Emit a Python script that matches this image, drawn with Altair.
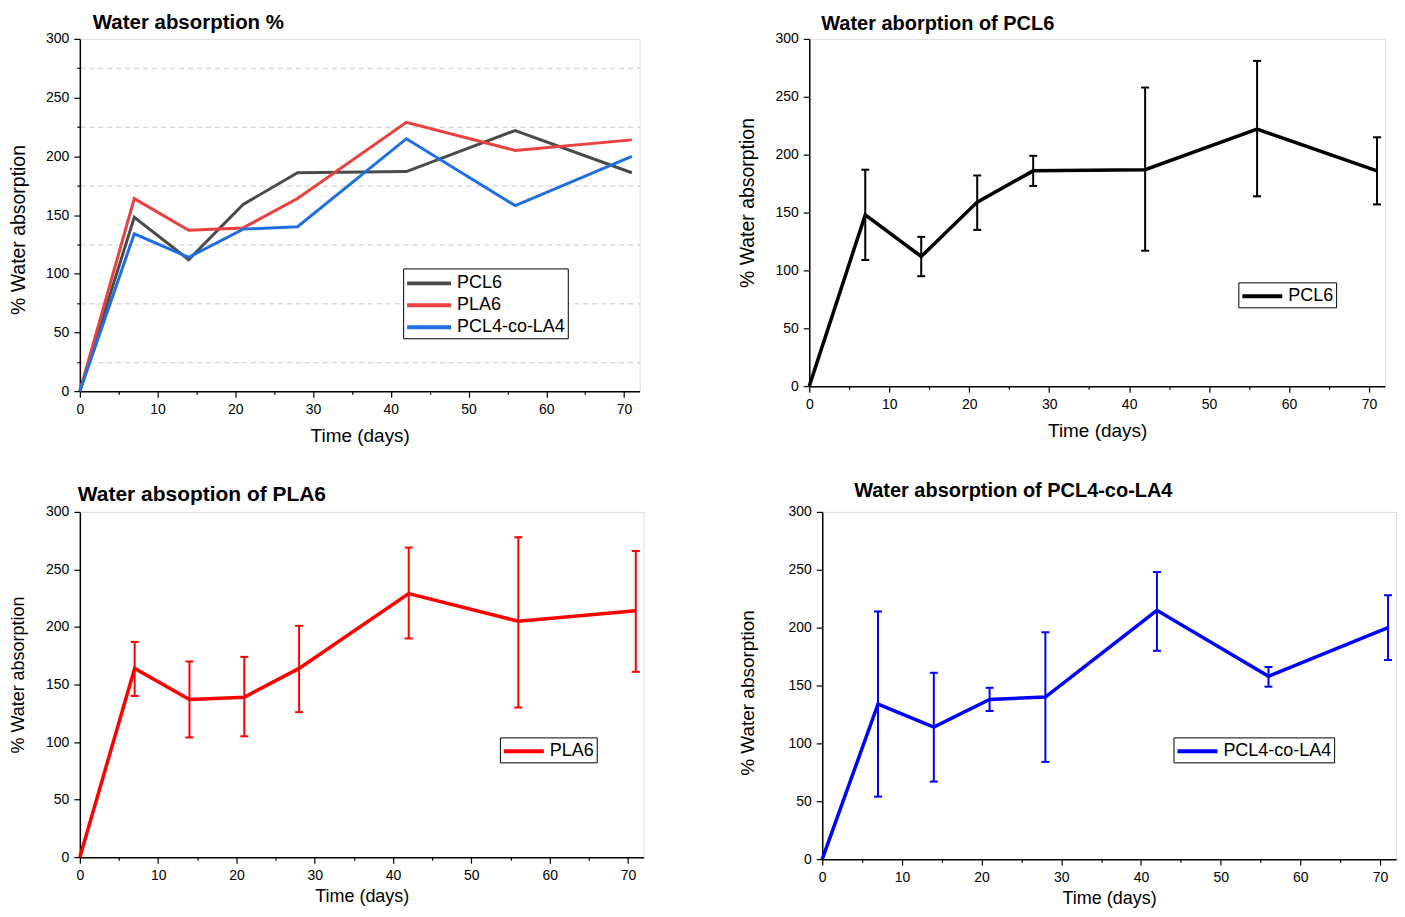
import altair as alt
import pandas as pd

# ---------------- data ----------------
days = [0, 7, 14, 21, 28, 42, 56, 71]
err_days = [7, 14, 21, 28, 42, 56, 71]

pcl6 = [0, 148, 112, 159, 186, 187, 222, 186]
pcl6_lo = [109, 95, 135, 173, 117, 164, 157]
pcl6_hi = [187, 129, 182, 199, 258, 281, 215]

pla6 = [0, 164, 137, 139, 164, 229, 205, 214]
pla6_lo = [140, 104, 105, 126, 190, 130, 161]
pla6_hi = [187, 170, 174, 201, 269, 278, 266]

co = [0, 134, 114, 138, 140, 215, 158, 200]
co_lo = [54, 67, 128, 84, 180, 149, 172]
co_hi = [214, 161, 148, 196, 248, 166, 228]

names = ["PCL6", "PLA6", "PCL4-co-LA4"]
y_ticks = [0, 25, 50, 75, 100, 125, 150, 175, 200, 225, 250, 275, 300]
x_ticks = [0, 5, 10, 15, 20, 25, 30, 35, 40, 45, 50, 55, 60, 65, 70]

FONT = "Liberation Sans, Arial, Helvetica, sans-serif"


def line_df(series_names, series_vals):
    rows = []
    for n, vals in zip(series_names, series_vals):
        for d, v in zip(days, vals):
            rows.append({"day": d, "val": v, "series": n})
    return pd.DataFrame(rows)


def err_df(lo, hi):
    return pd.DataFrame({"day": err_days, "lo": lo, "hi": hi})


def x_axis(tfs, tpad, lpad):
    return alt.Axis(
        title="Time (days)", values=x_ticks,
        labelExpr="datum.value % 10 == 0 ? datum.label : ''",
        tickSize={"condition": {"test": "datum.value % 10 == 0", "value": 6}, "value": 3},
        grid=False, labelFontSize=14, titleFontSize=tfs, titleFontWeight="normal",
        labelPadding=lpad, titlePadding=tpad, labelFont=FONT, titleFont=FONT,
        domainColor="black", domainWidth=1.5, tickColor="black", tickWidth=1.2,
        labelColor="black", titleColor="black", labelFlush=False,
    )


def y_axis(tfs, tpad, ty):
    return alt.Axis(
        title="% Water absorption", values=y_ticks,
        labelExpr="datum.value % 50 == 0 ? datum.label : ''",
        tickSize={"condition": {"test": "datum.value % 50 == 0", "value": 6}, "value": 3},
        grid=True,
        gridOpacity={"condition": {"test": "datum.value % 50 == 0", "value": 0}, "value": 1},
        gridDash=[5, 4], gridColor="#c8c8c8", gridWidth=1,
        labelFontSize=14, titleFontSize=tfs, titleFontWeight="normal",
        labelPadding=5, titlePadding=tpad, titleY=ty, labelFont=FONT, titleFont=FONT,
        domainColor="black", domainWidth=1.5, tickColor="black", tickWidth=1.2,
        labelColor="black", titleColor="black", labelFlush=False,
    )


def panel(series_names, series_vals, colors, errs, title, tdx, tfs, toff,
          ytfs, ytpad, yty, xtfs, xtpad, xlpad, w, h, lx, ly, lw, sym):
    xs = alt.Scale(domain=[0, 72], nice=False)
    ys = alt.Scale(domain=[0, 300], nice=False)
    ldf = line_df(series_names, series_vals)
    xa = x_axis(xtfs, xtpad, xlpad)
    ya = y_axis(ytfs, ytpad, yty)
    layers = []
    for (lo, hi), c in zip(errs, colors):
        e = err_df(lo, hi)
        base = alt.Chart(e)
        layers.append(base.mark_rule(strokeWidth=2, color=c).encode(
            x=alt.X("day:Q", scale=xs, axis=xa),
            y=alt.Y("lo:Q", scale=ys, axis=ya),
            y2="hi:Q"))
        layers.append(base.transform_fold(["lo", "hi"], as_=["end", "v"]).mark_rule(
            strokeWidth=2, color=c, xOffset=-4, x2Offset=4).encode(
            x=alt.X("day:Q", scale=xs), x2="day:Q", y=alt.Y("v:Q", scale=ys)))
    # legend line: symbol path spans 4r with r = sqrt(size)/2, i.e. 2*sym px
    lines = alt.Chart(ldf).mark_line(strokeWidth=lw, strokeJoin="miter").encode(
        x=alt.X("day:Q", scale=xs, axis=xa),
        y=alt.Y("val:Q", scale=ys, axis=ya),
        color=alt.Color("series:N", scale=alt.Scale(domain=series_names, range=colors),
                        legend=alt.Legend(
                            orient="none", legendX=lx, legendY=ly, title=None,
                            symbolType="M-1,0H3", symbolSize=sym * sym, symbolStrokeWidth=4,
                            labelFontSize=18, labelFont=FONT, labelColor="black",
                            strokeColor="black", fillColor="white", padding=2,
                            rowPadding=0, labelOffset=sym + 4, cornerRadius=0,
                            labelLimit=300)),
        order="day:Q",
    )
    layers.append(lines)
    return alt.layer(*layers).properties(
        width=w, height=h,
        title=alt.TitleParams(title, anchor="start", frame="group", dx=tdx,
                              fontSize=tfs, fontWeight="bold", font=FONT,
                              offset=toff, color="black"),
    )


p1 = panel(names, [pcl6, pla6, co], ["#4a4a4a", "#e8413f", "#1f6fe0"], [],
           "Water absorption %", 13, 20.5, -2, 19.5, 17, 191,
           19, 10, 5, 561, 353, 324, 230, 3, 22)
p2 = panel(["PCL6"], [pcl6], ["black"], [(pcl6_lo, pcl6_hi)],
           "Water aborption of PCL6", 12, 20, -2, 19.5, 18, 164,
           19, 10, 5, 577, 348, 430, 244, 3.5, 20)
p3 = panel(["PLA6"], [pla6], ["#ff0000"], [(pla6_lo, pla6_hi)],
           "Water absoption of PLA6", -2, 21, 0, 18, 18, 163,
           18, 5, 5, 565, 346, 421, 226, 3.5, 20)
p4 = panel(["PCL4-co-LA4"], [co], ["#0000ff"], [(co_lo, co_hi)],
           "Water absorption of PCL4-co-LA4", 32, 20, 4, 19, 31, 181,
           18, 5, 5, 575, 348, 352, 226, 3.5, 20)

top = alt.hconcat(p1, p2, spacing=96).resolve_scale(color="independent", x="independent", y="independent")
bottom = alt.hconcat(p3, p4, spacing=93).resolve_scale(color="independent", x="independent", y="independent")

chart = alt.vconcat(top, bottom, spacing=34).resolve_scale(
    color="independent", x="independent", y="independent"
).properties(
    padding={"left": 0, "top": 4, "right": 0, "bottom": 0}
).configure_view(stroke="black", strokeWidth=1).configure(background="white")

chart.save("out.html", embed_options={"renderer": "svg", "actions": False})
